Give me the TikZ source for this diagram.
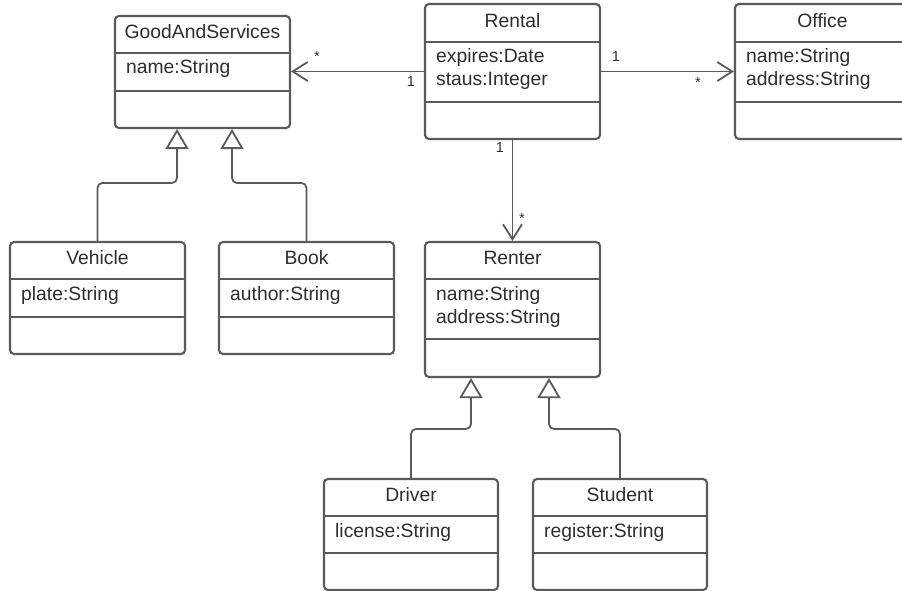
\documentclass[tikz,border=0pt]{standalone}
\usepackage{fontspec}
\setmainfont{Liberation Sans}
\usetikzlibrary{arrows.meta}
\definecolor{linegray}{HTML}{5A5A5A}
\definecolor{textgray}{HTML}{2E2E2E}
\tikzset{
  x=1pt, y=-1pt,
  clsbox/.style={draw=linegray, line width=2.1pt, rounded corners=4pt, inner sep=0pt, fill=white},
  clsline/.style={draw=linegray, line width=2.1pt},
  clstitle/.style={anchor=base, text=textgray, font=\fontsize{19.3}{22}\selectfont, inner sep=0pt},
  clsattr/.style={anchor=base west, text=textgray, font=\fontsize{19.3}{22}\selectfont, inner sep=0pt},
  mult/.style={anchor=base, text=textgray, font=\fontsize{14.5}{16}\selectfont, inner sep=0pt},
  assoc/.style={draw=linegray, line width=1.8pt, -{Straight Barb[length=15pt, width=19pt, line width=1.8pt]}},
  gen/.style={draw=linegray, line width=1.8pt, rounded corners=5pt, -{Triangle[open, length=20pt, width=23pt, line width=1.8pt, fill=white]}},
}
\newcommand{\umlcls}[9]{%
  \node[clsbox, minimum width={(#4-#2)*1pt}, minimum height={(#5-#3)*1pt}] (#1) at ({(#2+#4)/2},{(#3+#5)/2}) {};
  \draw[clsline] (#2,#6) -- (#4,#6);
  \draw[clsline] (#2,#7) -- (#4,#7);
  \node[clstitle] (#1-title) at ({(#2+#4)/2},{#6-14.5}) {#8};
  \node[clsattr] (#1-a1) at ({#2+11},{#6+21}) {#9};
}
\begin{document}
\begin{tikzpicture}
\fill[white] (0,0) rectangle (902,591);
\useasboundingbox (0,0) rectangle (902,591);

\umlcls{gas}{115}{16}{290}{128}{53}{91}{GoodAndServices}{name:String}
\umlcls{rental}{425}{4}{600}{139}{42}{102}{Rental}{expires:Date}
\node[clsattr] (rental-a2) at (436,86) {staus:Integer};
\umlcls{office}{735}{4}{910}{139}{42}{102}{Office}{name:String}
\node[clsattr] (office-a2) at (746,86) {address:String};
\umlcls{vehicle}{10}{242}{185}{354}{279}{317}{Vehicle}{plate:String}
\umlcls{book}{219}{242}{394}{354}{279}{317}{Book}{author:String}
\umlcls{renter}{425}{242}{600}{377}{279}{339}{Renter}{name:String}
\node[clsattr] (renter-a2) at (436,323) {address:String};
\umlcls{driver}{324}{479}{498}{590}{516}{553}{Driver}{license:String}
\umlcls{student}{533}{479}{707}{590}{516}{553}{Student}{register:String}

% associations
\draw[assoc] (rental.west) -- (rental.west -| gas.east);
\draw[assoc] (rental.east) -- (office.west);
\draw[assoc] (rental.south) -- (renter.north);

\node[mult] (m1) at (317,62) {*};
\node[mult] (m2) at (411,87) {1};
\node[mult] (m3) at (616,62) {1};
\node[mult] (m4) at (698,88) {*};
\node[mult] (m5) at (500,153) {1};
\node[mult] (m6) at (522,223) {*};

% generalizations
\draw[gen] (vehicle.north) -- ++(0,-58) -| ([xshift=-25.5pt]gas.south);
\draw[gen] (book.north) -- ++(0,-58) -| ([xshift=29.5pt]gas.south);
\draw[gen] (driver.north) -- ++(0,-49) -| ([xshift=-41.5pt]renter.south);
\draw[gen] (student.north) -- ++(0,-49) -| ([xshift=36.5pt]renter.south);
\end{tikzpicture}
\end{document}
